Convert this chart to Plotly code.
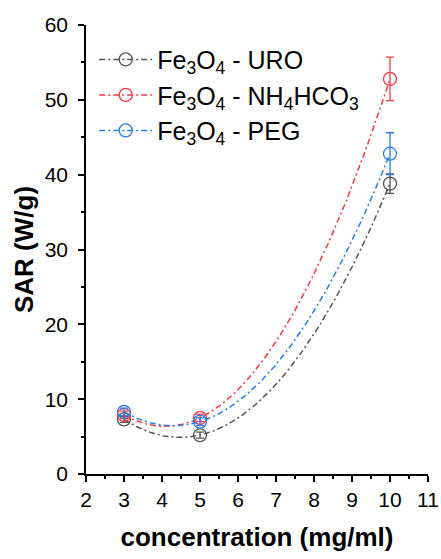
import numpy as np
import plotly.graph_objects as go

concentration = [3, 5, 10]
sar_uro = [7.3, 5.2, 38.8]
err_uro = [0.4, 0.4, 1.3]
sar_nh4 = [7.9, 7.5, 52.8]
err_nh4 = [0.5, 0.5, 2.9]
sar_peg = [8.3, 7.0, 42.8]
err_peg = [0.5, 0.5, 2.8]

names = ["Fe<sub>3</sub>O<sub>4</sub> - URO",
         "Fe<sub>3</sub>O<sub>4</sub> - NH<sub>4</sub>HCO<sub>3</sub>",
         "Fe<sub>3</sub>O<sub>4</sub> - PEG"]
colors = ["#555555", "#f03c46", "#2c7be5"]
dash = "6px,3px,2px,3px"

fig = go.Figure()
series = [sar_uro, sar_nh4, sar_peg]
errors = [err_uro, err_nh4, err_peg]

xs = np.linspace(min(concentration), max(concentration), 200)
for i, (name, ys, es, col) in enumerate(zip(names, series, errors, colors)):
    coef = np.polyfit(concentration, ys, 2)
    fig.add_trace(go.Scatter(x=xs, y=np.polyval(coef, xs), mode="lines",
                             line=dict(color=col, width=1.5, dash=dash),
                             showlegend=False, hoverinfo="skip"))
    fig.add_trace(go.Scatter(x=concentration, y=ys, mode="markers",
                             marker=dict(symbol="circle-open", size=13, color=col,
                                         line=dict(width=1.3, color=col)),
                             error_y=dict(type="data", array=es, color=col,
                                          thickness=1.3, width=4),
                             showlegend=False))
    fig.add_trace(go.Scatter(x=[None], y=[None], mode="lines+markers", name=name,
                             legendgroup="g%d" % i,
                             line=dict(color=col, width=1.5, dash=dash),
                             marker=dict(symbol="circle-open", size=13, color=col,
                                         line=dict(width=1.3, color=col))))

axis_font = dict(family="Liberation Sans, Arial", size=21, color="black")
fig.update_layout(
    width=441, height=559,
    margin=dict(l=86, r=13, t=25, b=85),
    plot_bgcolor="white", paper_bgcolor="white",
    font=dict(family="Liberation Sans, Arial", size=21, color="black"),
    legend=dict(x=0.024, y=0.974, xanchor="left", yanchor="top",
                bgcolor="rgba(0,0,0,0)", font=dict(size=25),
                itemwidth=53, tracegroupgap=0),
    xaxis=dict(range=[2, 11], dtick=1, tick0=2, showgrid=False, zeroline=False,
               automargin=False,
               showline=True, linecolor="black", linewidth=1.5,
               ticks="outside", ticklen=6, tickwidth=1.5, tickcolor="black",
               tickfont=axis_font,
               minor=dict(dtick=0.5, ticks="outside", ticklen=3, tickwidth=1.5, tickcolor="black"),
               title=dict(text="<b>concentration (mg/ml)</b>", font=dict(size=26), standoff=18)),
    yaxis=dict(range=[0, 60], dtick=10, showgrid=False, zeroline=False,
               automargin=False,
               showline=True, linecolor="black", linewidth=1.5,
               ticks="outside", ticklen=6, tickwidth=1.5, tickcolor="black",
               tickfont=axis_font, ticklabelstandoff=6,
               minor=dict(dtick=5, ticks="outside", ticklen=3, tickwidth=1.5, tickcolor="black"),
               title=dict(text="<b>SAR (W/g)</b>", font=dict(size=26), standoff=4)),
    xaxis2=dict(range=[2, 11], dtick=1, tick0=2, overlaying="x", side="top", anchor="y",
                automargin=False,
                showgrid=False, zeroline=False, showline=True, linecolor="black", linewidth=1.5,
                ticks="inside", ticklen=6, tickwidth=1.5, tickcolor="black", showticklabels=False,
                minor=dict(dtick=0.5, ticks="inside", ticklen=3, tickwidth=1.5, tickcolor="black")),
    yaxis2=dict(range=[0, 60], dtick=10, overlaying="y", side="right", anchor="x",
                automargin=False,
                showgrid=False, zeroline=False, showline=True, linecolor="black", linewidth=1.5,
                ticks="inside", ticklen=6, tickwidth=1.5, tickcolor="black", showticklabels=False,
                minor=dict(dtick=5, ticks="inside", ticklen=3, tickwidth=1.5, tickcolor="black")),
)
fig.write_html("out.html", config={"displayModeBar": False},
               post_script="document.body.style.margin='0';")
